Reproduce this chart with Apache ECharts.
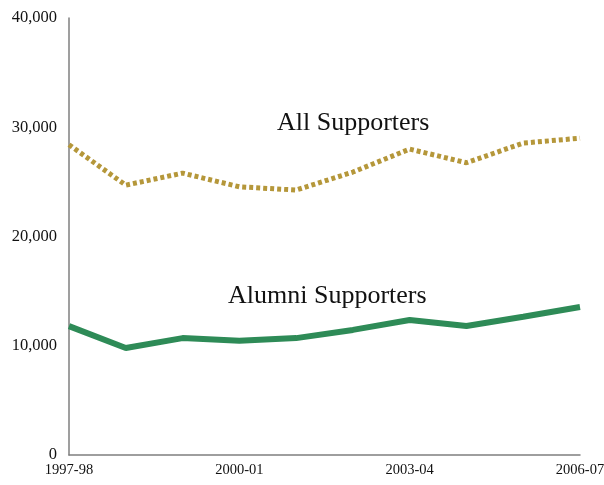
<!DOCTYPE html>
<html><head><meta charset="utf-8">
<script src="https://cdn.jsdelivr.net/npm/echarts@6/dist/echarts.min.js"></script>
<style>html,body{margin:0;padding:0;background:#fff}#c{width:604px;height:485px}</style>
</head><body><div id="c"></div>
<script>
const categories = ['1997-98','1998-99','1999-00','2000-01','2001-02','2002-03','2003-04','2004-05','2005-06','2006-07'];
const allSupporters = [28400, 24700, 25800, 24550, 24250, 25900, 28000, 26750, 28550, 29000];
const alumniSupporters = [11800, 9800, 10700, 10450, 10700, 11450, 12350, 11800, 12650, 13550];
const yTicks = [0, 10000, 20000, 30000, 40000];

const font = '"Liberation Serif", "DejaVu Serif", serif';
const chart = echarts.init(document.getElementById('c'));
chart.setOption({
  animation: false,
  backgroundColor: '#fff',
  grid: {left: 69, right: 24, top: 18, bottom: 30, containLabel: false, outerBoundsMode: 'none'},
  xAxis: {
    type: 'category', data: categories, boundaryGap: false,
    axisLine: {lineStyle: {color: '#7f7f7f', width: 1.5}},
    axisTick: {show: false},
    axisLabel: {interval: 2, color: '#111', fontFamily: font, fontSize: 14.5, margin: 8}
  },
  yAxis: {
    type: 'value', min: yTicks[0], max: yTicks[yTicks.length - 1], interval: 10000,
    axisLine: {show: true, lineStyle: {color: '#7f7f7f', width: 1.5}},
    axisTick: {show: false},
    splitLine: {show: false},
    axisLabel: {color: '#111', fontFamily: font, fontSize: 16.5, margin: 12,
      formatter: v => v.toLocaleString('en-US')}
  },
  series: [
    {name: 'All Supporters', type: 'line', data: allSupporters, symbol: 'none',
     lineStyle: {color: '#B5973A', width: 5, type: [4, 3]}},
    {name: 'Alumni Supporters', type: 'line', data: alumniSupporters, symbol: 'none',
     lineStyle: {color: '#2E8B57', width: 6}}
  ],
  graphic: [
    {type: 'text', left: 277, top: 110, style: {text: 'All Supporters', font: '26px ' + font, fill: '#111'}},
    {type: 'text', left: 228, top: 283, style: {text: 'Alumni Supporters', font: '26px ' + font, fill: '#111'}}
  ]
});
</script></body></html>
